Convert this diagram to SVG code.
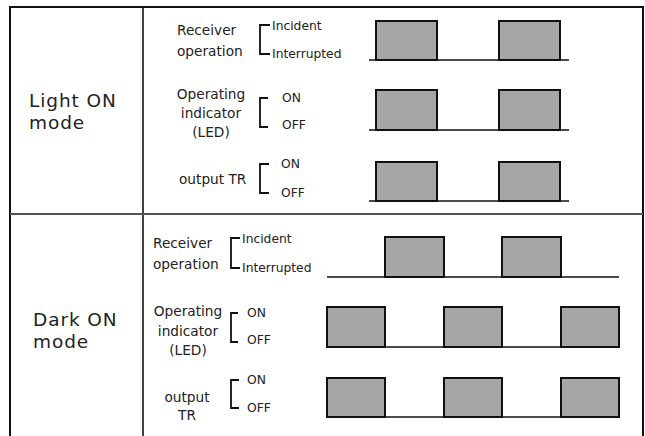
<svg xmlns="http://www.w3.org/2000/svg" width="645" height="436" viewBox="0 0 645 436">
<style>
text{font-family:"DejaVu Sans","Liberation Sans",sans-serif;fill:#222}
.mode{font-size:18.5px;letter-spacing:0.9px}
.lbl{font-size:13.7px}
.st{font-size:12.3px}
.c{text-anchor:middle}
.br{fill:none;stroke:#111;stroke-width:1.8}
.p{fill:#a6a6a6;stroke:#111;stroke-width:2}
.base{stroke:#111;stroke-width:1.6;fill:none}
.frame{stroke:#111;stroke-width:2;fill:none}
</style>
<rect width="645" height="436" fill="#fff"/>
<g id="frame">
<path class="frame" d="M10,436 V7 H643 V436"/>
<line x1="143" y1="7" x2="143" y2="436" stroke="#111" stroke-width="1.6"/>
<line x1="10" y1="214" x2="643" y2="214" stroke="#555" stroke-width="2"/>
</g>
<g id="light-on-mode">
<text class="mode" x="29" y="107">Light ON</text>
<text class="mode" x="29" y="128.5">mode</text>
</g>
<g id="light-receiver">
<text class="lbl" x="177" y="35">Receiver</text>
<text class="lbl" x="177" y="56">operation</text>
<path class="br" d="M270,25 H260 V54 H270"/>
<text class="st" x="272" y="30">Incident</text>
<text class="st" x="272" y="58">Interrupted</text>
</g>
<g id="light-led">
<text class="lbl c" x="211" y="99">Operating</text>
<text class="lbl c" x="211" y="118">indicator</text>
<text class="lbl c" x="211" y="137">(LED)</text>
<path class="br" d="M268,98 H260 V127 H268"/>
<text class="st" x="282" y="102">ON</text>
<text class="st" x="282" y="129">OFF</text>
</g>
<g id="light-output">
<text class="lbl" x="179" y="184">output TR</text>
<path class="br" d="M269,164 H260 V193 H269"/>
<text class="st" x="281" y="168">ON</text>
<text class="st" x="281" y="197">OFF</text>
</g>
<g id="dark-on-mode">
<text class="mode" x="33" y="326">Dark ON</text>
<text class="mode" x="33" y="347.5">mode</text>
</g>
<g id="dark-receiver">
<text class="lbl" x="153" y="248">Receiver</text>
<text class="lbl" x="153" y="269">operation</text>
<path class="br" d="M240,238 H231 V268 H240"/>
<text class="st" x="242" y="243">Incident</text>
<text class="st" x="242" y="272">Interrupted</text>
</g>
<g id="dark-led">
<text class="lbl c" x="188" y="316">Operating</text>
<text class="lbl c" x="188" y="336">indicator</text>
<text class="lbl c" x="188" y="355">(LED)</text>
<path class="br" d="M238,313 H231 V342 H238"/>
<text class="st" x="247" y="317">ON</text>
<text class="st" x="247" y="344">OFF</text>
</g>
<g id="dark-output">
<text class="lbl c" x="187" y="402">output</text>
<text class="lbl c" x="187" y="420">TR</text>
<path class="br" d="M239,380 H231 V408 H239"/>
<text class="st" x="247" y="384">ON</text>
<text class="st" x="247" y="412">OFF</text>
</g>
<g id="connectors">
<line class="base" x1="369" y1="60" x2="569" y2="60"/>
<rect class="p" x="376" y="21" width="61" height="39"/>
<rect class="p" x="499" y="21" width="61" height="39"/>
<line class="base" x1="369" y1="130" x2="569" y2="130"/>
<rect class="p" x="376" y="90" width="61" height="40"/>
<rect class="p" x="499" y="90" width="61" height="40"/>
<line class="base" x1="369" y1="201" x2="569" y2="201"/>
<rect class="p" x="376" y="162" width="61" height="39"/>
<rect class="p" x="499" y="162" width="61" height="39"/>
<line class="base" x1="327" y1="277" x2="619" y2="277"/>
<rect class="p" x="385" y="237" width="59" height="40"/>
<rect class="p" x="502" y="237" width="59" height="40"/>
<line class="base" x1="327" y1="347" x2="619" y2="347"/>
<rect class="p" x="327" y="307" width="58" height="40"/>
<rect class="p" x="444" y="307" width="58" height="40"/>
<rect class="p" x="561" y="307" width="58" height="40"/>
<line class="base" x1="327" y1="417" x2="619" y2="417"/>
<rect class="p" x="327" y="378" width="58" height="39"/>
<rect class="p" x="444" y="378" width="58" height="39"/>
<rect class="p" x="561" y="378" width="58" height="39"/>
</g>
</svg>
